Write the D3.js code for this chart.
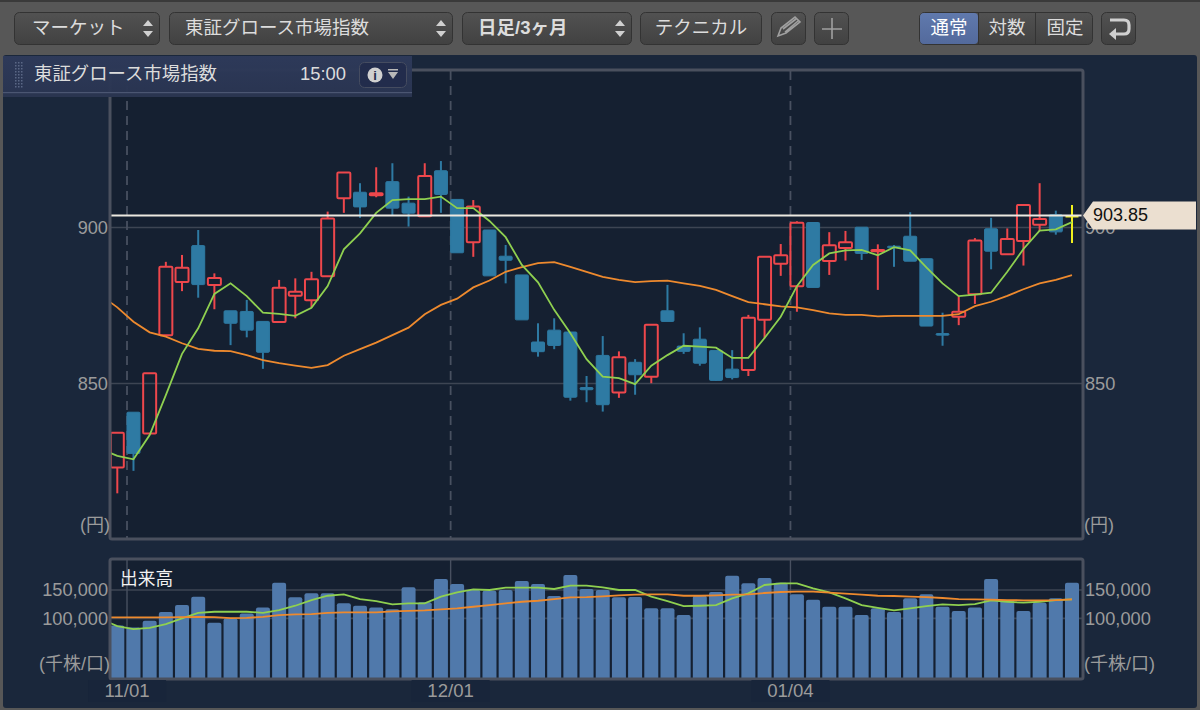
<!DOCTYPE html>
<html>
<head>
<meta charset="utf-8">
<script src="https://d3js.org/d3.v7.min.js"></script>
<style>
html, body { margin: 0; padding: 0; background: #555; overflow: hidden; }
svg { display: block; }
text { font-family: "Liberation Sans", "Noto Sans CJK JP", sans-serif; }
</style>
</head>
<body>
<div id="chart"></div>
<script>
// Daily candles, 60 sessions
const opens = [823.1,840.8,834,865.5,882.5,894.2,881.6,873.3,873.1,869.9,869.7,878.1,876.7,884.4,909.4,911.3,910.3,914.7,907.8,903.6,
  918.2,909,895.3,899.2,890.8,884.8,863.3,867.1,866.5,848.7,859,847.1,856.8,852.2,873.3,862,864.2,860.6,854.6,854.3,
  870.4,888.4,881.2,901.6,889.3,893.4,900.1,892.4,894,897.2,890,866,871.4,878.6,899.6,891.4,895.7,900.9,904.1,903.7];
const closes = [834.2,827.6,853.3,887.4,887.1,881.7,883.8,869.3,867.1,860,880.7,879.4,883.4,902.9,917.6,906.6,911,906.2,904.6,916.5,
  910.6,891.9,906.7,884.5,889.5,870.4,860.2,862.2,845.6,848,843.2,858.4,852.8,868.8,869.9,860.3,856.5,851,851.9,871.1,
  890.6,891.1,901.5,880.8,894.3,895.3,891.7,892.8,893.5,889.2,868.4,865.5,873,895.8,892.4,896.3,907.2,902.7,898.6,903.85];
const highs = [834.2,840.8,853.3,889,891.2,899.2,885.3,873.3,876.8,869.9,883.2,883.7,885.8,905.1,917.6,914.2,919.3,920.6,909.9,920.6,
  921.3,909,908.8,899.2,894.4,884.8,869.3,870.9,866.5,852.4,865.2,860.3,857.8,868.8,881.6,866.1,868,860.6,860.7,872,
  890.6,894.7,902,901.6,898.5,898.9,900.1,894.6,894.4,904.9,890,872.7,878,896.6,903.1,899.7,907.2,914.2,905.4,907.2];
const lows = [814.8,822,834,865.5,879.6,877.5,873.8,862.3,864.8,854.7,869.7,870.9,874.4,884.4,904.7,903.1,909.7,904,900.3,903.6,
  904.7,891.9,890.6,884.5,882.1,870.4,858.6,861,844.5,844,841,845.4,846.4,850.1,869.9,859.5,855.7,850.8,851.3,852.4,
  864.5,884.5,873,880.8,884.8,889.4,889.6,880,887.4,889.2,868.4,862.1,868.7,875.5,886.6,891.4,887.8,898.9,897.7,895];

// Moving averages start one session before the first visible candle
const priceMaShort = [829,826.8,825.7,833.5,846.3,859.5,867.7,878.7,882.1,878,872.7,872.3,871.7,874.3,881.2,893,898.1,904.7,908.8,909.1,909.1,
  909.9,906.2,906.2,902.1,896.9,888,882.4,873.6,866.1,857.8,852.2,851.7,849.8,855.7,859.1,862.1,861.8,861.5,858.2,858.2,
  864.6,871.4,881.2,888,891.7,892.7,892.8,891.1,893.7,892.7,887.2,882.1,878,878.5,879.1,885.8,893.1,899,899.4,901.7];
const priceMaLong = [878.2,874.4,869.8,866.4,865,862.9,861.1,860.5,860.4,859.1,857.5,856.5,855.7,855,855.9,858.9,861,863.1,865.5,867.9,872.2,
  875.2,877.2,880.8,883,885.8,887.3,888.6,888.9,887.4,885.8,884.2,883.2,882.5,882.8,883,882.1,881.3,880,878,876.1,
  875.4,874.7,874.4,873.5,872.5,872,872,871.5,871.7,871.7,871.7,871.7,872.2,874.8,876.2,878.1,880.2,882.1,883.2,884.7];

// Volume in thousand shares
const volumes = [87.6,84.1,95.8,111.1,123.5,138.2,92.2,100,108.8,119.4,162.9,137.1,144.2,144.2,126.5,122.3,119.4,115.9,154.8,128.3,
  169.4,160.6,150,148.8,150,165.9,160.6,139.4,176.5,151.8,150,137.1,137.6,117.7,117.7,105.8,139.9,146.5,175.3,161.8,
  171.2,162.9,142.4,132.9,120.5,120.5,105.8,117.7,111.1,135.3,142.4,120.5,112.9,119.4,169.4,132.3,112.9,127.6,135.3,162.9];
const volumeMaShort = [98.8,86.4,81.1,83.4,89.9,100,109.9,111.7,111.7,111.7,109.9,114.7,122.3,132.3,139.9,142.4,134.1,130.6,124.7,126.5,126.5,
  138.2,145.9,151.2,150,154.1,154.1,154.1,151.8,157.6,157.6,154.8,150,150,138.2,130.6,121.7,122.3,123.5,135.3,144.2,
  158.8,161.8,161.8,153,145.9,135.3,123.5,118.7,114.1,117.7,121.7,124.7,123.5,125.3,131.8,129.3,127.6,129.3,132.3,133.6];
const volumeMaLong = [101.8,101.8,101.8,101.8,101.8,102.3,102.8,102.3,100.5,101.1,102.8,105.8,107.1,107.6,109.9,110.6,110.6,110.6,112.4,113.4,114.1,
  115.9,117.7,120.5,123.5,126.5,129.3,131.1,134.1,137.1,137.6,138.9,140.6,141.7,142.4,142.4,139.9,139.9,140.6,141.7,142.4,
  144.7,146.5,147,147,145.2,143.5,141.7,139.9,139.4,138.2,137.6,135.9,134.1,133.6,132.9,132.3,131.8,131.8,132.3,133.6];

const priceTicks = [850, 900];
const volumeTicks = [100, 150];
const dateLabels = ['11/01', '12/01', '01/04'];
// Date rules sit between sessions
const dateSlots = [0.6, 20.6, 41.6];
const lastPrice = 903.85;
const lastIndex = closes.length - 1;

const width = 1200, height = 710;
const plot = { left: 111, right: 1082, top: 71, bottom: 538 };
const volPlot = { left: 111, right: 1082, top: 560, bottom: 678 };

const x = d3.scaleLinear().domain([0, lastIndex]).range([117.3, 1072]);
const yPrice = d3.scaleLinear().domain([850, 900]).range([383.5, 227.5]);
const yVol = d3.scaleLinear().domain([100, 150]).range([618.4, 590]);

const RED = '#ee474c', BLUE = '#2e7aa3', YELLOW = '#f0f01e';
const GREEN = '#8fd050', ORANGE = '#ee8a2e';
const AXIS_TEXT = '#9b9b9b', GRID = '#3d4553', BORDER = '#4a505e';

const svg = d3.select('#chart').append('svg').attr('width', width).attr('height', height);
const defs = svg.append('defs');

const gradient = (id, top, bottom) => {
  const g = defs.append('linearGradient').attr('id', id).attr('x1', 0).attr('x2', 0).attr('y1', 0).attr('y2', 1);
  g.append('stop').attr('offset', '0%').attr('stop-color', top);
  g.append('stop').attr('offset', '100%').attr('stop-color', bottom);
};
gradient('btn', '#525252', '#414141');
gradient('sel', '#6079ad', '#536a9c');
gradient('tab', '#2e3a5a', '#2a3552');

defs.append('clipPath').attr('id', 'clipPrice').append('rect')
  .attr('x', plot.left).attr('y', plot.top)
  .attr('width', plot.right - plot.left).attr('height', plot.bottom - plot.top);
defs.append('clipPath').attr('id', 'clipVol').append('rect')
  .attr('x', volPlot.left).attr('y', volPlot.top)
  .attr('width', volPlot.right - volPlot.left).attr('height', volPlot.bottom - volPlot.top);

// Window frame
svg.append('rect').attr('width', width).attr('height', height).attr('fill', '#575757');
svg.append('rect').attr('width', width).attr('height', 2).attr('fill', '#3a3a3a');
svg.append('rect').attr('x', 3).attr('y', 55).attr('width', 1194).attr('height', 653).attr('rx', 3).attr('fill', '#1a273b');

// Plot backgrounds
[plot, volPlot].forEach(p => {
  svg.append('rect').attr('x', p.left).attr('y', p.top)
    .attr('width', p.right - p.left).attr('height', p.bottom - p.top)
    .attr('fill', '#152031');
});

function drawAxes(scale, ticks, fmt, p) {
  const left = d3.axisLeft(scale).tickValues(ticks).tickSize(0).tickPadding(3).tickFormat(fmt);
  const right = d3.axisRight(scale).tickValues(ticks).tickSize(0).tickPadding(3).tickFormat(fmt);
  [[left, p.left], [right, p.right]].forEach(([axis, pos]) => {
    const g = svg.append('g').attr('transform', `translate(${pos},0)`).call(axis);
    g.select('.domain').remove();
    g.selectAll('text').attr('fill', AXIS_TEXT).attr('font-size', 18.2)
      .style('font-family', '"Liberation Sans", sans-serif');
  });
  svg.append('g').selectAll('line').data(ticks).join('line')
    .attr('x1', p.left).attr('x2', p.right)
    .attr('y1', d => scale(d)).attr('y2', d => scale(d))
    .attr('stroke', GRID).attr('stroke-width', 1.6);
}

// Price panel
drawAxes(yPrice, priceTicks, d3.format('d'), plot);

svg.append('g').selectAll('line').data(dateSlots).join('line')
  .attr('x1', d => x(d)).attr('x2', d => x(d))
  .attr('y1', plot.top).attr('y2', plot.bottom)
  .attr('stroke', '#485060').attr('stroke-width', 1.8).attr('stroke-dasharray', '9 6');

const candles = svg.append('g').attr('clip-path', 'url(#clipPrice)');
const bodyW = 13;
d3.range(closes.length).forEach(i => {
  const up = closes[i] >= opens[i];
  const color = i === lastIndex ? YELLOW : (up ? RED : BLUE);
  const top = yPrice(Math.max(opens[i], closes[i]));
  const bottom = yPrice(Math.min(opens[i], closes[i]));
  const cx = x(i);
  candles.append('line').attr('x1', cx).attr('x2', cx).attr('y1', yPrice(highs[i])).attr('y2', top)
    .attr('stroke', color).attr('stroke-width', 2);
  candles.append('line').attr('x1', cx).attr('x2', cx).attr('y1', bottom).attr('y2', yPrice(lows[i]))
    .attr('stroke', color).attr('stroke-width', 2);
  if (i === lastIndex) {
    candles.append('rect').attr('x', cx - bodyW / 2).attr('y', top).attr('width', bodyW).attr('height', Math.max(bottom - top, 2))
      .attr('fill', color);
  } else {
    candles.append('rect').attr('x', cx - bodyW / 2).attr('y', top).attr('width', bodyW).attr('height', bottom - top)
      .attr('rx', 1).attr('fill', up ? 'none' : color).attr('stroke', color).attr('stroke-width', up ? 2 : 1);
  }
});

const lineFor = (scale) => d3.line().x((d, i) => x(i - 1)).y(d => scale(d));

svg.append('g').attr('clip-path', 'url(#clipPrice)').selectAll('path')
  .data([[priceMaLong, ORANGE], [priceMaShort, GREEN]]).join('path')
  .attr('d', d => lineFor(yPrice)(d[0]))
  .attr('fill', 'none').attr('stroke', d => d[1]).attr('stroke-width', 1.8);

// Last price line and tag
svg.append('line').attr('x1', plot.left).attr('x2', plot.right)
  .attr('y1', yPrice(lastPrice)).attr('y2', yPrice(lastPrice))
  .attr('stroke', '#ece8e0').attr('stroke-width', 2);

svg.append('rect').attr('x', plot.left - 1).attr('y', plot.top - 1)
  .attr('width', plot.right - plot.left + 2).attr('height', plot.bottom - plot.top + 2)
  .attr('rx', 2).attr('fill', 'none').attr('stroke', BORDER).attr('stroke-width', 3);

const tagY = yPrice(lastPrice);
svg.append('path')
  .attr('d', `M1083,${tagY} L1093,${tagY - 14} H1196 V${tagY + 14} H1093 Z`)
  .attr('fill', '#ebdfd0');
svg.append('text').attr('x', 1093).attr('y', tagY + 6).attr('font-size', 18).attr('fill', '#111')
  .text(d3.format('.2f')(lastPrice));

svg.append('text').attr('x', 110).attr('y', 531).attr('text-anchor', 'end').attr('font-size', 18).attr('fill', AXIS_TEXT).text('(円)');
svg.append('text').attr('x', 1084).attr('y', 531).attr('font-size', 18).attr('fill', AXIS_TEXT).text('(円)');

// Volume panel
drawAxes(yVol, volumeTicks, d => d3.format(',')(d * 1000), volPlot);

svg.append('g').selectAll('line').data(dateSlots).join('line')
  .attr('x1', d => x(d)).attr('x2', d => x(d))
  .attr('y1', volPlot.top).attr('y2', volPlot.bottom)
  .attr('stroke', '#485060').attr('stroke-width', 1.4);

svg.append('g').attr('clip-path', 'url(#clipVol)').selectAll('rect')
  .data(volumes).join('rect')
  .attr('x', (d, i) => x(i) - 7).attr('width', 14)
  .attr('y', d => yVol(d))
  .attr('height', d => volPlot.bottom + 4 - yVol(d))
  .attr('rx', 2).attr('fill', '#5079ab');

svg.append('g').attr('clip-path', 'url(#clipVol)').selectAll('path')
  .data([[volumeMaShort, GREEN], [volumeMaLong, ORANGE]]).join('path')
  .attr('d', d => lineFor(yVol)(d[0]))
  .attr('fill', 'none').attr('stroke', d => d[1]).attr('stroke-width', 1.8);

svg.append('rect').attr('x', volPlot.left - 1).attr('y', volPlot.top - 1)
  .attr('width', volPlot.right - volPlot.left + 2).attr('height', volPlot.bottom - volPlot.top + 2)
  .attr('rx', 2).attr('fill', 'none').attr('stroke', BORDER).attr('stroke-width', 3);

svg.append('text').attr('x', 120).attr('y', 585).attr('font-size', 17.7).attr('fill', '#f2f2f2').text('出来高');
svg.append('text').attr('x', 110).attr('y', 670).attr('text-anchor', 'end').attr('font-size', 18).attr('fill', AXIS_TEXT).text('(千株/口)');
svg.append('text').attr('x', 1084).attr('y', 670).attr('font-size', 18).attr('fill', AXIS_TEXT).text('(千株/口)');

// Date labels
const dates = svg.append('g').selectAll('g').data(dateSlots).join('g');
dates.append('rect').attr('x', d => x(d) - 39).attr('y', 680).attr('width', 78).attr('height', 22).attr('fill', '#18253a');
dates.append('text').attr('x', d => x(d)).attr('y', 697).attr('text-anchor', 'middle')
  .attr('font-size', 18.6).attr('fill', AXIS_TEXT).text((d, i) => dateLabels[i]);

// Header tab
svg.append('rect').attr('x', 3).attr('y', 56).attr('width', 409).attr('height', 37).attr('fill', 'url(#tab)').attr('opacity', 0.97);
svg.append('rect').attr('x', 3).attr('y', 92).attr('width', 409).attr('height', 5).attr('fill', '#2a3550');
svg.append('rect').attr('x', 3).attr('y', 92).attr('width', 409).attr('height', 1.2).attr('fill', '#4b5672');
const grip = svg.append('g');
d3.range(0, 9).forEach(r => d3.range(0, 3).forEach(c => {
  grip.append('rect').attr('x', 15 + c * 3).attr('y', 62 + r * 3).attr('width', 1.5).attr('height', 1.5).attr('fill', '#5a6785');
}));
svg.append('text').attr('x', 34).attr('y', 80).attr('font-size', 18.4).attr('fill', '#dcdcdc').text('東証グロース市場指数');
svg.append('text').attr('x', 300).attr('y', 80).attr('font-size', 18.4).attr('fill', '#dcdcdc').text('15:00');
svg.append('rect').attr('x', 359.5).attr('y', 62.5).attr('width', 47).attr('height', 25).attr('rx', 5)
  .attr('fill', '#222c4c').attr('stroke', '#454c60');
svg.append('circle').attr('cx', 375).attr('cy', 75).attr('r', 7.5).attr('fill', '#d0d0d0');
svg.append('text').attr('x', 375).attr('y', 80).attr('text-anchor', 'middle').attr('font-size', 13).attr('font-weight', 'bold').attr('fill', '#222c4c').text('i');
svg.append('rect').attr('x', 388).attr('y', 69).attr('width', 10).attr('height', 1.5).attr('fill', '#b8b8b8');
svg.append('path').attr('d', 'M388,72 H398 L393,79 Z').attr('fill', '#b8b8b8');

// Toolbar
function button(x0, x1, label, opts = {}) {
  svg.append('rect').attr('x', x0 + 0.5).attr('y', 12.5).attr('width', x1 - x0 - 1).attr('height', 32).attr('rx', 5)
    .attr('fill', 'url(#btn)').attr('stroke', '#333');
  if (label) {
    svg.append('text').attr('x', opts.tx || (x0 + x1) / 2).attr('y', 34)
      .attr('text-anchor', opts.tx ? 'start' : 'middle')
      .attr('font-size', 18.5).attr('font-weight', opts.bold ? 'bold' : 'normal')
      .attr('fill', '#dcdcdc').text(label);
  }
  if (opts.spin) {
    const c = x1 - 12;
    svg.append('path').attr('d', `M${c - 5},26 L${c},20 L${c + 5},26 Z M${c - 5},31 L${c},37 L${c + 5},31 Z`).attr('fill', '#d0d0d0');
  }
}
button(14, 160, 'マーケット', { tx: 32, spin: true });
button(169, 453, '東証グロース市場指数', { tx: 185, spin: true });
button(462, 632, '日足/3ヶ月', { tx: 478, spin: true, bold: true });
button(640, 762, 'テクニカル');
button(771, 806);
svg.append('path').attr('d', 'M778,36 L781,28 L795,17 L800,22 L786,33 Z M783,29 L796,19 M785,32 L798,21')
  .attr('fill', 'none').attr('stroke', '#a0a0a0').attr('stroke-width', 1.6);
button(814, 849);
svg.append('path').attr('d', 'M832,18 V39 M822,29 H842').attr('stroke', '#a0a0a0').attr('stroke-width', 1.6);

svg.append('rect').attr('x', 919.5).attr('y', 12.5).attr('width', 173).attr('height', 32).attr('rx', 5)
  .attr('fill', 'url(#btn)').attr('stroke', '#333');
svg.append('rect').attr('x', 920).attr('y', 13).attr('width', 58).attr('height', 31).attr('rx', 4).attr('fill', 'url(#sel)');
[978.5, 1035.5].forEach(v => svg.append('line').attr('x1', v).attr('x2', v).attr('y1', 13).attr('y2', 44).attr('stroke', '#333'));
[['通常', 949, '#fff'], ['対数', 1007, '#dcdcdc'], ['固定', 1065, '#dcdcdc']].forEach(([t, tx, c]) => {
  svg.append('text').attr('x', tx).attr('y', 34).attr('text-anchor', 'middle').attr('font-size', 18.5).attr('fill', c).text(t);
});
button(1101, 1136);
svg.append('path').attr('d', 'M1110,20 H1124 Q1129,20 1129,25 V29 Q1129,34 1124,34 H1113')
  .attr('fill', 'none').attr('stroke', '#d0d0d0').attr('stroke-width', 3.2);
svg.append('path').attr('d', 'M1116,28 L1109,34 L1116,40 Z').attr('fill', '#d0d0d0');
</script>
</body>
</html>
